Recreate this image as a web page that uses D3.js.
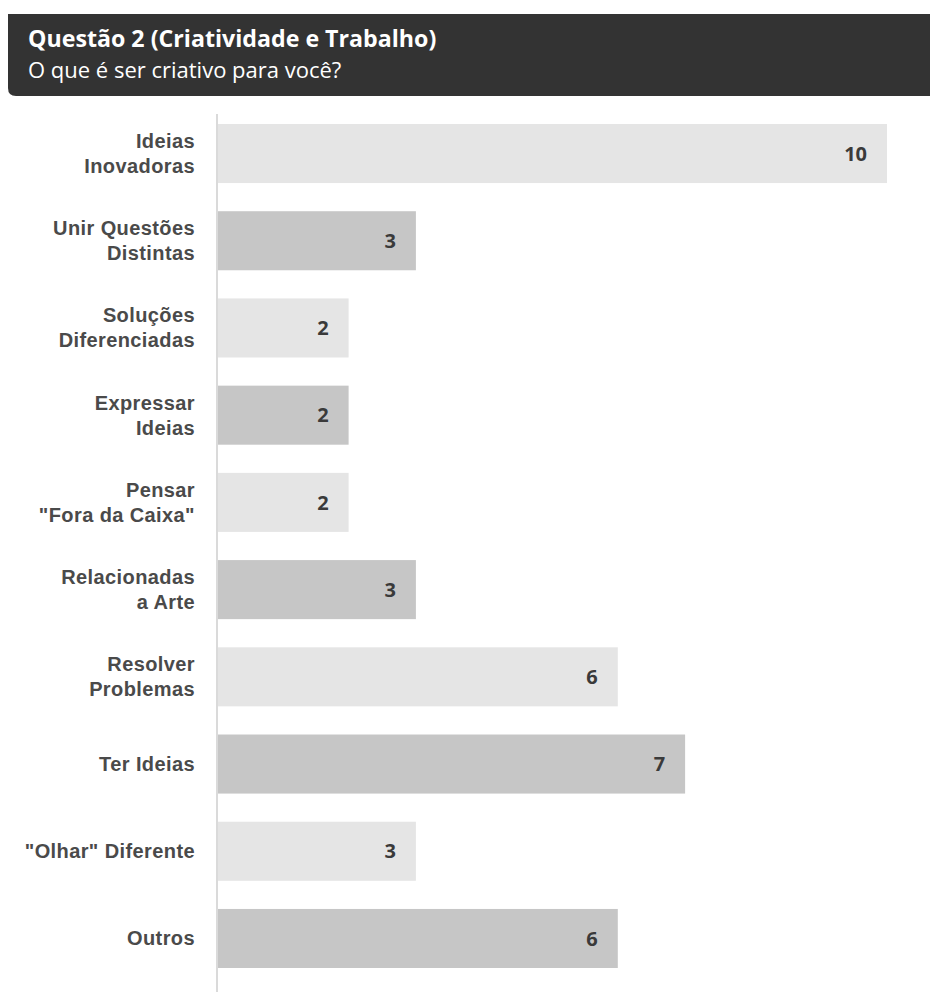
<!DOCTYPE html>
<html lang="pt">
<head>
    <meta charset="UTF-8">
    <title>Questão 2 (Criatividade e Trabalho)</title>
    <script src="https://cdnjs.cloudflare.com/ajax/libs/d3/7.8.5/d3.min.js"></script>
    <style>
        body { margin: 0; background: #fff; }
        svg { display: block; }
    </style>
</head>
<body>
    <div id="chart"></div>
    <script>
    // categories (each label split in lines) and answer counts
    const categories = [
        ["Ideias", "Inovadoras"],
        ["Unir Questões", "Distintas"],
        ["Soluções", "Diferenciadas"],
        ["Expressar", "Ideias"],
        ["Pensar", "\"Fora da Caixa\""],
        ["Relacionadas", "a Arte"],
        ["Resolver", "Problemas"],
        ["Ter Ideias"],
        ["\"Olhar\" Diferente"],
        ["Outros"]
    ];
    const values = [10, 3, 2, 2, 2, 3, 6, 7, 3, 6];
    const title = "Questão 2 (Criatividade e Trabalho)";
    const subtitle = "O que é ser criativo para você?";

    const W = 930, H = 992;
    const svg = d3.select("#chart").append("svg")
        .attr("width", W).attr("height", H);

    // header box
    svg.append("path")
        .attr("d", `M8,14 H${W} V96 H16 Q8,96 8,88 Z`)
        .attr("fill", "#333333");
    svg.append("text")
        .attr("x", 28).attr("y", 47)
        .attr("fill", "#fff")
        .style("font-family", "'Open Sans', sans-serif")
        .style("font-weight", "bold")
        .style("font-size", "23.2px")
        .text(title);
    svg.append("text")
        .attr("x", 28).attr("y", 78)
        .attr("fill", "#fff")
        .style("font-family", "'Open Sans', sans-serif")
        .style("font-size", "22px")
        .text(subtitle);

    const x0 = 218;
    const x = d3.scaleLinear().domain([0, 10]).range([214, 887]);
    const idx = d3.range(values.length);
    const y = d3.scaleBand()
        .domain(idx)
        .range([124, 968])
        .paddingInner(0.323)
        .paddingOuter(0);

    // axis line
    svg.append("line")
        .attr("x1", 217).attr("x2", 217)
        .attr("y1", 114).attr("y2", H)
        .attr("stroke", "#b5b5b5").attr("stroke-width", 1);

    svg.selectAll("rect.bar")
        .data(idx)
        .join("rect")
        .attr("class", "bar")
        .attr("x", x0)
        .attr("y", i => y(i))
        .attr("width", i => x(values[i]) - x0)
        .attr("height", y.bandwidth())
        .attr("fill", i => i % 2 === 0 ? "#e5e5e5" : "#c6c6c6");

    svg.selectAll("text.val")
        .data(idx)
        .join("text")
        .attr("class", "val")
        .attr("x", i => x(values[i]) - 20)
        .attr("y", i => y(i) + y.bandwidth() / 2)
        .attr("dy", "0.36em")
        .attr("text-anchor", "end")
        .attr("fill", "#3a3a3a")
        .style("font-family", "'Open Sans', sans-serif")
        .style("font-weight", "bold")
        .style("font-size", "20px")
        .text(i => values[i]);

    const lab = svg.selectAll("text.cat")
        .data(idx)
        .join("text")
        .attr("class", "cat")
        .attr("text-anchor", "end")
        .attr("fill", "#4a4a4a")
        .style("font-family", "'Liberation Sans', Arial, sans-serif")
        .style("font-weight", "bold")
        .style("font-size", "20px")
        .style("letter-spacing", "0.4px");
    lab.each(function(i) {
        const lines = categories[i];
        const cy = y(i) + y.bandwidth() / 2;
        const lh = 25;
        lines.forEach((l, k) => {
            d3.select(this).append("tspan")
                .attr("x", 195)
                .attr("y", cy + (k - (lines.length - 1) / 2) * lh)
                .attr("dy", "0.35em")
                .text(l);
        });
    });
    </script>
</body>
</html>
